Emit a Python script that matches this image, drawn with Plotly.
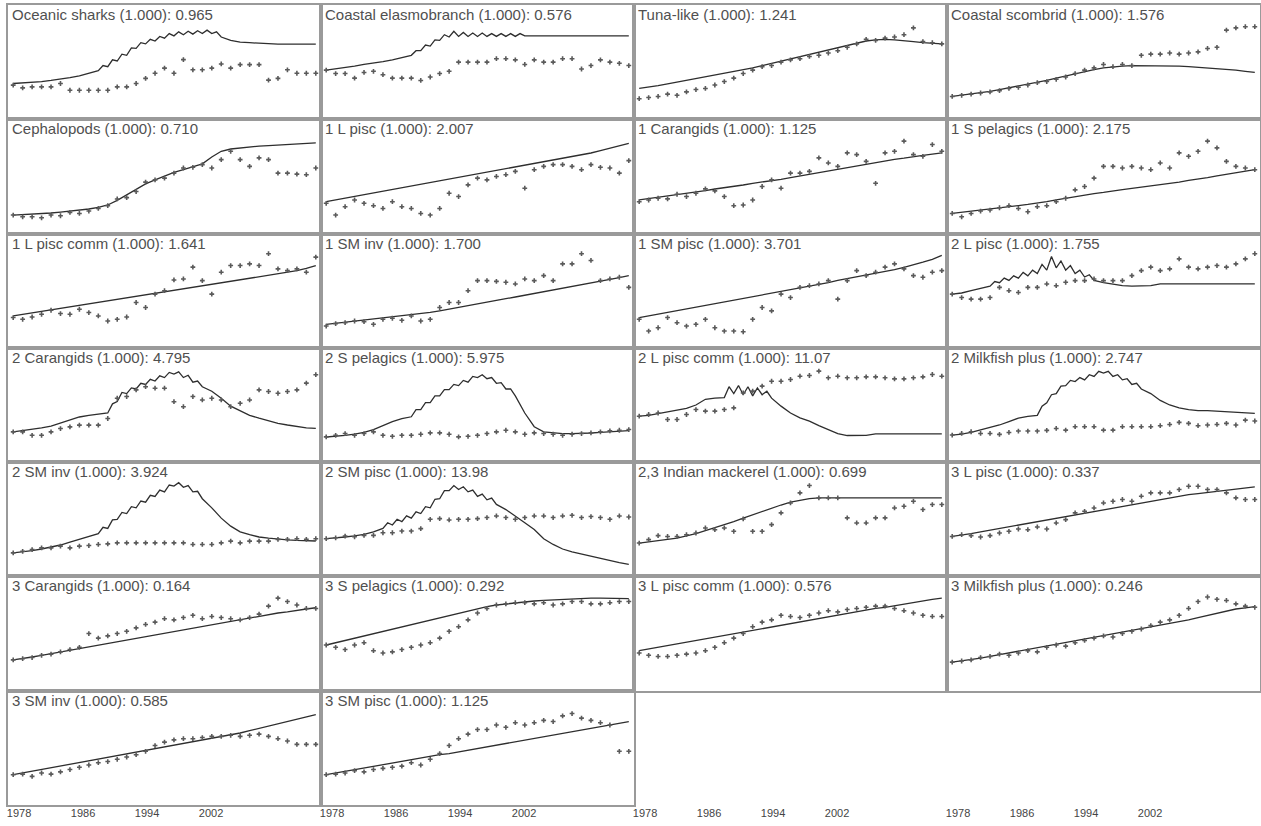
import plotly.graph_objects as go
from plotly.subplots import make_subplots

years = list(range(1978, 2011))
axis_tick_years = [1978, 1986, 1994, 2002]
axis_tick_text = ["1978", "1986", "1994", "2002"]

titles = [
    "Oceanic sharks (1.000): 0.965", "Coastal elasmobranch (1.000): 0.576",
    "Tuna-like (1.000): 1.241", "Coastal scombrid (1.000): 1.576",
    "Cephalopods (1.000): 0.710", "1 L pisc (1.000): 2.007",
    "1 Carangids (1.000): 1.125", "1 S pelagics (1.000): 2.175",
    "1 L pisc comm (1.000): 1.641", "1 SM inv (1.000): 1.700",
    "1 SM pisc (1.000): 3.701", "2 L pisc (1.000): 1.755",
    "2 Carangids (1.000): 4.795", "2 S pelagics (1.000): 5.975",
    "2 L pisc comm (1.000): 11.07", "2 Milkfish plus (1.000): 2.747",
    "2 SM inv (1.000): 3.924", "2 SM pisc (1.000): 13.98",
    "2,3 Indian mackerel (1.000): 0.699", "3 L pisc (1.000): 0.337",
    "3 Carangids (1.000): 0.164", "3 S pelagics (1.000): 0.292",
    "3 L pisc comm (1.000): 0.576", "3 Milkfish plus (1.000): 0.246",
    "3 SM inv (1.000): 0.585", "3 SM pisc (1.000): 1.125",
]

# ---- observed (relative) values and fitted lines, panel-relative scale 0-100 ----
obs_oceanic_sharks = [29.9, 27.5, 28.4, 28.4, 28.4, 31.3, 25.4, 25.4, 25.4, 25.4, 25.4, 28.4, 28.4, 31.3, 35.8, 40.3, 44.8, 40.3, 52.2, 43.3, 43.3, 44.8, 48.4, 44.8, 47.8, 47.8, 47.8, 34.3, 35.8, 43.3, 40.3, 40.3, 40.3]
fit_oceanic_sharks = [31.3, 31.8, 32.3, 33, 34, 35, 36.5, 38, 40, 42.5, 46, 51, 56, 62, 66, 68.5, 71, 73, 74, 74.5, 75, 75, 72, 69, 67.5, 67, 66.5, 66, 65.7, 65.7, 65.7, 65.7, 65.7]
mid_oceanic_sharks = [None] * 9 + [47, 52, 57, 62.5, 67, 70, 72.5, 75, 76.5, 77, 77.5, 78, 76.5] + [None] * 11

obs_coastal_elasmo = [43, 40, 40, 36, 41, 42, 39, 36, 36, 36, 34, 37, 40, 42, 50, 50, 50, 50, 53, 53, 52, 48, 52, 50, 50, 53, 53, 44, 47, 52, 50, 49, 47]
fit_coastal_elasmo = [43, 44, 45, 46.5, 48, 49, 50.5, 52, 54, 56, 60, 64, 69, 72, 72.5, 72.5, 72.5, 72.5, 72.5, 72.5, 72.5, 73, 73, 73, 73, 73, 73, 73, 73, 73, 73, 73, 73]
mid_coastal_elasmo = [None] * 9 + [60, 65, 69.5, 74, 77, 76, 75.5, 75.5, 75, 75, 75, 75] + [None] * 12

obs_tuna_like = [18, 19, 20, 22, 21, 24, 26, 27, 30, 33, 36, 40, 43, 46, 47, 50, 52, 53, 55, 56, 58, 60, 63, 66, 70, 69, 71, 72, 74, 80, 68, 67, 66]
fit_tuna_like = [27, 28, 29.5, 31, 32.5, 34, 35.5, 37, 38.5, 40, 41.5, 43, 45, 47, 49, 51, 53, 55, 57, 59, 61, 63, 65, 67, 68.5, 69.5, 70, 69.5, 69, 68, 67, 66.5, 66]

obs_coastal_scombrid = [20, 21, 22, 23, 24, 25, 27, 28, 30, 32, 33, 35, 37, 40, 43, 45, 48, 46, 48, 47, 56, 57, 57, 58, 57, 58, 59, 62, 63, 78, 80, 81, 81]
fit_coastal_scombrid = [20, 21, 22, 23, 24.5, 26, 27.5, 29, 30.5, 32, 34, 36, 38, 40, 42, 43.5, 45, 46, 46.5, 47, 47, 47, 47, 47, 46.5, 46, 45.5, 45, 44.5, 44, 43, 42, 41]

obs_cephalopods = [16.2, 14.7, 14.7, 13.8, 16.2, 15.6, 18.5, 17.6, 19.7, 22, 24.4, 30.3, 31.5, 36.8, 45, 47, 48.5, 52.9, 57.4, 58, 60.3, 57.4, 64.7, 72, 64.7, 58.8, 66.2, 64.7, 52.9, 52.9, 52, 51.5, 57.4]
fit_cephalopods = [16.2, 16.5, 17, 17.5, 18, 18.8, 19.7, 20.5, 21.5, 23, 25, 29, 34, 39, 43.5, 47, 50.5, 53.5, 56, 58.5, 61, 67, 72, 74, 75, 75.8, 76.5, 77, 77.5, 78, 78.5, 79, 79.4]

obs_1_l_pisc = [26.5, 16.2, 23.5, 29.4, 26.5, 24.4, 22, 27.9, 23.5, 22, 17.6, 16.2, 22, 35.3, 32.4, 42.6, 48.5, 47, 50, 51.5, 54.4, 39.7, 55.9, 58.8, 60.3, 60.3, 58.8, 55.9, 60.3, 58, 57.4, 52.9, 63.8]
fit_1_l_pisc = [28, 29.5, 31, 32.5, 34, 35.5, 37, 38.5, 40, 41.5, 43, 44.5, 46, 47.5, 49, 50.5, 52, 53.5, 55, 56.5, 58, 59.5, 61, 62.5, 64, 65.5, 67, 68.5, 70.5, 72.5, 74.5, 76.5, 79]

obs_1_carangids = [27.9, 29.4, 30.9, 30.4, 34.4, 32.4, 35.3, 39.1, 37.4, 32.4, 24.4, 25, 29.4, 41.2, 47, 39.7, 52.9, 52.9, 54.4, 66.2, 61.8, 58.8, 70.6, 69.1, 63.2, 44, 70.6, 72, 80.9, 69.1, 67.6, 77.9, 72]
fit_1_carangids = [29.4, 30.5, 31.5, 33, 34, 35, 36.5, 37.5, 39, 40, 41.5, 42.5, 44, 45, 46.5, 47.5, 49, 50.5, 52, 53.5, 55, 56.5, 58, 59.5, 61, 62.5, 63.5, 65, 66, 67.5, 68.5, 69.5, 70.6]

obs_1_s_pelagics = [17.6, 14.7, 17.6, 19.7, 20.6, 22.6, 24.4, 22, 19.1, 23.5, 24.4, 27.9, 30.9, 38.2, 41.2, 48.5, 58.8, 58.8, 57.4, 58.8, 57.4, 55.9, 61.8, 57.4, 70.6, 67.6, 72, 80.9, 75, 63.2, 58.8, 57.4, 55.9]
fit_1_s_pelagics = [17.6, 18.5, 19.5, 20.5, 21.5, 22.5, 23.5, 24.5, 25.5, 26.5, 28, 29.5, 31, 32.5, 34, 35, 36, 37.5, 38.5, 39.5, 40.5, 41.5, 42.5, 44, 45, 46.5, 47.5, 49, 50.5, 52, 53, 54.5, 55.9]

obs_1_l_pisc_comm = [26.5, 25, 27, 29.4, 32.9, 30, 29.4, 33.8, 30.9, 27.9, 23.5, 25, 27, 39.7, 35.3, 47, 50, 59.4, 60.3, 70.6, 58.8, 47, 66.2, 72, 72, 73.5, 72, 82.4, 69.1, 67.6, 69.1, 66.2, 79.4]
fit_1_l_pisc_comm = [27.9, 29.2, 30.5, 31.8, 33.1, 34.4, 35.7, 37, 38.3, 39.6, 41, 42.3, 43.6, 44.9, 46.2, 47.5, 48.8, 50.1, 51.4, 52.7, 54, 55.3, 56.6, 57.9, 59.2, 60.5, 61.8, 63.1, 64.4, 65.7, 67.5, 69.5, 72]

obs_1_sm_inv = [19.1, 21.2, 22, 23.5, 22.9, 20.6, 25, 25.9, 24.1, 27.9, 23.5, 25, 35.3, 39.7, 39.7, 50, 58.8, 58.8, 58.2, 57.4, 55.9, 60.3, 58.8, 63.2, 58.8, 73.5, 73.5, 82.4, 76.5, 58.8, 60.3, 61.8, 52.9]
fit_1_sm_inv = [20.6, 21.5, 22.4, 23.3, 24.2, 25.1, 26, 27, 28, 29, 30, 31, 32.4, 34, 35.5, 37, 38.5, 40, 41.5, 43, 44.5, 46, 47.5, 49, 50.5, 52, 53.5, 55, 56.5, 58, 59.5, 61.5, 63.2]

obs_1_sm_pisc = [25, 14.7, 17.6, 26.5, 22, 19.1, 20.6, 25, 17.6, 14.7, 14.7, 14.1, 25, 35.3, 32.4, 47, 44, 52.9, 54.4, 55.9, 58.8, 42.6, 58.8, 67.6, 63.2, 66.2, 70.6, 73.5, 69.1, 63.2, 61.8, 66.2, 67.6]
fit_1_sm_pisc = [26.5, 28, 29.5, 31, 32.5, 34, 35.5, 37, 38.5, 40, 41.5, 43, 44.5, 46, 47.5, 49.5, 51, 52.5, 54, 55.5, 57, 59, 60.5, 62, 63.5, 65.5, 67, 68.5, 70.5, 72.5, 75, 77.5, 80.9]

obs_2_l_pisc = [47, 44, 42.6, 42.6, 44, 52.9, 50, 48.5, 52.9, 52.9, 55.9, 54.4, 57.4, 58.8, 58.8, 60.3, 58.8, 58.8, 58.8, 63.2, 67.6, 70.6, 67.6, 69.1, 77.9, 70.6, 69.1, 70.6, 72, 70.6, 73.5, 77.9, 82.4]
fit_2_l_pisc = [47, 48, 50, 52, 54, 57, 59, 61, 63, 65, 68, 70, 68, 65, 62, 59, 57, 55.5, 54.5, 54, 54, 54.5, 55.9, 55.9, 55.9, 55.9, 55.9, 55.9, 55.9, 55.9, 55.9, 55.9, 55.9]
mid_2_l_pisc = [None] * 4 + [58, 61, 63, 66, 68, 73, 80, 76, 72, 68, 64] + [None] * 18

obs_2_carangids = [26.5, 26.5, 23.5, 23.5, 26.5, 29.4, 30.9, 32.4, 32.4, 32.4, 38.2, 55.9, 57.4, 63.2, 66, 64.7, 64.7, 52.9, 48.5, 57.4, 54.4, 55.9, 54.4, 48.5, 51.5, 54.4, 63.2, 61.8, 60.3, 61.8, 63.2, 69.1, 76.5]
fit_2_carangids = [26.5, 27.5, 28.5, 30, 31.5, 34, 37, 39.5, 41, 42, 43, 53, 60, 64, 68, 71, 74, 77, 74, 70, 66, 62, 56, 49, 45, 41, 38.5, 36, 34, 32.5, 31, 30, 29.5]
mid_2_carangids = [None] * 10 + [51, 61, 65, 69, 72.5, 75.5, 78.5, 79, 76, 71] + [None] * 13

obs_2_s_pelagics = [22.1, 23.5, 25, 23.5, 25, 26.5, 23.5, 22.6, 23.5, 23.5, 24.4, 25.6, 25.6, 24.4, 22.1, 22.6, 23.5, 25, 26.5, 27.9, 26.5, 24.4, 25.6, 25, 24.4, 23.5, 24.4, 25, 25.6, 26.5, 27.4, 27.9, 28.5]
fit_2_s_pelagics = [22, 22.5, 23.5, 24.5, 26, 28.5, 32, 35.5, 38, 39.7, 46, 52, 58, 63.5, 67, 70, 74, 73, 69, 64, 58, 43, 31, 26.5, 25.5, 25, 25, 25, 25.5, 26, 26.5, 27, 27.5]
mid_2_s_pelagics = [None] * 9 + [46, 52, 58, 63.5, 68, 71.5, 75, 76.5, 74, 69.5, 64] + [None] * 13

obs_2_l_pisc_comm = [40.2, 41.7, 43, 37.3, 37.3, 41.7, 46, 44.6, 44.6, 46, 47.5, 60.6, 62.1, 66.5, 70.8, 70.8, 72.3, 75.2, 75.8, 79.6, 73.8, 75.2, 73.8, 73.8, 74.6, 74.6, 73.8, 72.9, 72.9, 73.8, 74.6, 76.7, 75.2]
fit_2_l_pisc_comm = [40.2, 41, 42.5, 44, 45, 47, 50, 55, 56, 56.5, 60, 59, 58, 59, 56, 49, 43, 38.8, 35.9, 32, 28.6, 25, 23.3, 23.3, 23.5, 24.8, 24.8, 24.8, 24.8, 24.8, 24.8, 24.8, 24.8]
mid_2_l_pisc_comm = [None] * 9 + [66, 67, 66, 65, 62] + [None] * 19

obs_2_milkfish = [23.7, 25.1, 26.6, 25.1, 25.1, 24.3, 26, 27.2, 27.2, 27.2, 27.8, 29.5, 28, 31, 31, 31, 28, 28, 31, 31, 31, 31, 31.9, 33, 34.8, 33.9, 31.9, 32.5, 33, 33.9, 32.5, 36.8, 36]
fit_2_milkfish = [23.7, 24.5, 26, 28, 30, 32.5, 35.5, 38.5, 40, 41, 52, 60, 67, 70.5, 72, 75, 78, 75, 72, 68, 64, 60, 54, 50, 47.5, 46, 45, 45, 44.5, 44, 43.5, 42.7, 42.7]
mid_2_milkfish = [None] * 9 + [49, 59, 66.5, 71.5, 74, 76.5, 79.5, 79.5, 76.5, 73, 69] + [None] * 13

obs_2_sm_inv = [20.6, 22, 23.5, 25, 25, 26.5, 25, 26.5, 27, 28, 28.5, 29.4, 29.4, 29.4, 29.4, 29.4, 29.4, 29.4, 29.4, 28, 28, 28, 29.4, 30.9, 29.4, 30.9, 30.9, 30.9, 32.4, 32.4, 33, 32.4, 33]
fit_2_sm_inv = [20.6, 21.5, 22.5, 24, 25.5, 27.5, 30, 32.4, 35, 37.5, 42, 50, 55, 60, 65, 70, 74, 79, 78, 74, 68, 60, 51, 44, 39, 36.5, 34.5, 33.5, 32.5, 32, 31.5, 31, 31]
mid_2_sm_inv = [None] * 9 + [43, 49.5, 56, 61, 66, 71, 75.5, 80, 82, 79.5, 74.5] + [None] * 13

obs_2_sm_pisc = [33, 33.8, 35.3, 34.7, 35.9, 35.9, 38.2, 38.2, 39.7, 39.7, 41.8, 50, 50.6, 49.4, 50, 50, 50.6, 51.5, 52.9, 51.5, 50, 51.5, 52.9, 52.9, 51.5, 52.9, 53.5, 51.5, 52.4, 51.5, 50, 52.9, 52]
fit_2_sm_pisc = [33, 33.5, 34.5, 35.5, 36.8, 39, 42, 45, 48, 51, 55, 60, 68, 75, 76, 74, 70, 67, 63, 58.5, 53, 47, 41, 33, 28, 24, 21.5, 19.5, 17.5, 15.5, 13.5, 12, 10.5]
mid_2_sm_pisc = [None] * 6 + [47, 50, 53, 56.5, 61, 67.5, 75, 79.5, 78.5, 75.5, 72, 68.5] + [None] * 15

obs_indian_mackerel = [29.2, 32.2, 35.7, 35, 35, 36.5, 38, 42.4, 40.9, 42.4, 39.5, 50.3, 39.5, 39.5, 45.3, 55.6, 64.3, 73.1, 79.5, 68.7, 68.7, 68.7, 51.2, 46.8, 46.8, 51.2, 51.2, 59.9, 61.4, 65.8, 58.5, 62.9, 62.9]
fit_indian_mackerel = [29.2, 30.5, 31.5, 32.5, 33.6, 35.5, 37.5, 40, 42.5, 45, 48, 51, 54, 57, 60, 62.5, 65, 66.5, 68, 68.7, 69, 68.7, 68.7, 68.7, 68.7, 68.7, 68.7, 68.7, 68.7, 68.7, 68.7, 68.7, 68.7]

obs_3_l_pisc = [35, 36.5, 35.7, 34.5, 35.7, 38, 39.5, 41.5, 40.9, 43.3, 41.5, 46.8, 49.7, 55.6, 57, 59.9, 64.3, 65.8, 67.3, 65.8, 70.2, 73.1, 73.1, 73.1, 76, 78.9, 78.9, 76, 76, 73.1, 68.7, 67.3, 67.3]
fit_3_l_pisc = [35, 36, 37.5, 39, 40.5, 42, 43.5, 45, 46.5, 48, 49.5, 51, 52.5, 54, 55.5, 57, 58.5, 60, 61.5, 63, 64.5, 66, 67.5, 69, 70, 71.5, 72.5, 73.5, 74.5, 75.5, 76.5, 77.5, 78.4]

obs_3_carangids = [27, 28, 29, 31, 32, 34, 36, 38, 50, 46, 48, 50, 52, 55, 58, 60, 63, 62, 64, 66, 63, 65, 64, 63, 62, 64, 67, 74, 81, 78, 75, 72, 72]
fit_3_carangids = [27, 28, 29.5, 31, 32.5, 34, 35.5, 37, 38.5, 40, 41.5, 43, 44.5, 46, 47.5, 49, 50.5, 52, 53.5, 55, 56.5, 58, 59.5, 61, 62.5, 64, 65.5, 67, 68, 69, 70.5, 71.5, 72.6]

obs_3_s_pelagics = [40, 38, 36, 40, 42, 35, 33, 34, 36, 38, 40, 42, 46, 52, 56, 62, 68, 72, 75, 76, 77, 77, 76, 77, 75, 76, 78, 78, 76, 76, 77, 78, 78]
fit_3_s_pelagics = [40, 42, 44, 46, 48, 50, 52, 54, 56, 58, 60, 62, 64, 66, 68, 70, 72, 73.5, 75, 76, 77, 78, 78.5, 79, 79.5, 80, 80.5, 81, 81, 81, 81, 81, 80.5]

obs_3_l_pisc_comm = [33, 31, 30, 30, 31, 32, 33, 35, 38, 42, 46, 50, 56, 60, 62, 66, 65, 64, 66, 68, 70, 69, 71, 72, 73, 74, 74, 72, 70, 68, 66, 65, 65]
fit_3_l_pisc_comm = [35, 36.5, 38, 39.5, 41, 42.5, 44, 45.5, 47, 48.5, 50, 51.5, 53, 54.5, 56, 57.5, 59, 60.5, 62, 63.5, 65, 66.5, 68, 69, 70.5, 72, 73, 74.5, 76, 77.5, 78.5, 80, 81]

obs_3_milkfish = [25, 26, 27, 29, 30, 32, 31, 33, 35, 34, 38, 40, 39, 42, 44, 46, 48, 47, 50, 52, 54, 57, 60, 62, 66, 72, 78, 82, 80, 79, 76, 74, 73]
fit_3_milkfish = [25, 26, 27, 28.5, 30, 31.5, 33, 34.5, 36, 37.5, 39, 40.5, 42, 43.5, 45, 46.5, 48, 49.5, 51, 52.5, 54, 55.5, 57, 58.5, 60, 62, 64, 66, 68, 70, 71.5, 72.5, 73.5]

obs_3_sm_inv = [26.5, 27, 25, 28, 27, 29, 31, 33, 35, 37, 38, 40, 42, 44, 47, 52, 55, 57, 58, 58, 59, 60, 60, 61, 60, 61, 62, 60, 58, 56, 53, 53, 53]
fit_3_sm_inv = [26.5, 28, 29.5, 31, 32.5, 34, 35.5, 37, 38.5, 40, 41.5, 43, 44.5, 46, 47.5, 49, 50.5, 52, 53.5, 55, 56.5, 58, 60, 61.5, 63, 65, 67, 69, 71, 73, 75, 77, 79]

obs_3_sm_pisc = [26.5, 27, 28, 30, 29, 31, 32, 33, 34, 37, 35, 40, 45, 52, 58, 62, 66, 66, 70, 68, 72, 70, 72, 74, 73, 78, 80, 76, 74, 72, 70, 47, 47]
fit_3_sm_pisc = [26.5, 28, 29.5, 31, 32, 33.5, 35, 36.5, 38, 39.5, 41, 42.5, 44, 45, 46.5, 48, 49.5, 51, 52.5, 54, 55.5, 57, 58.5, 60, 61.5, 63, 64.5, 66, 67.5, 69, 70.5, 72, 73]

panels = [
    (obs_oceanic_sharks, fit_oceanic_sharks, mid_oceanic_sharks),
    (obs_coastal_elasmo, fit_coastal_elasmo, mid_coastal_elasmo),
    (obs_tuna_like, fit_tuna_like, None),
    (obs_coastal_scombrid, fit_coastal_scombrid, None),
    (obs_cephalopods, fit_cephalopods, None),
    (obs_1_l_pisc, fit_1_l_pisc, None),
    (obs_1_carangids, fit_1_carangids, None),
    (obs_1_s_pelagics, fit_1_s_pelagics, None),
    (obs_1_l_pisc_comm, fit_1_l_pisc_comm, None),
    (obs_1_sm_inv, fit_1_sm_inv, None),
    (obs_1_sm_pisc, fit_1_sm_pisc, None),
    (obs_2_l_pisc, fit_2_l_pisc, mid_2_l_pisc),
    (obs_2_carangids, fit_2_carangids, mid_2_carangids),
    (obs_2_s_pelagics, fit_2_s_pelagics, mid_2_s_pelagics),
    (obs_2_l_pisc_comm, fit_2_l_pisc_comm, mid_2_l_pisc_comm),
    (obs_2_milkfish, fit_2_milkfish, mid_2_milkfish),
    (obs_2_sm_inv, fit_2_sm_inv, mid_2_sm_inv),
    (obs_2_sm_pisc, fit_2_sm_pisc, mid_2_sm_pisc),
    (obs_indian_mackerel, fit_indian_mackerel, None),
    (obs_3_l_pisc, fit_3_l_pisc, None),
    (obs_3_carangids, fit_3_carangids, None),
    (obs_3_s_pelagics, fit_3_s_pelagics, None),
    (obs_3_l_pisc_comm, fit_3_l_pisc_comm, None),
    (obs_3_milkfish, fit_3_milkfish, None),
    (obs_3_sm_inv, fit_3_sm_inv, None),
    (obs_3_sm_pisc, fit_3_sm_pisc, None),
]

NROWS, NCOLS = 7, 4
W, H = 1261, 826
FONT = "Liberation Sans, Arial, sans-serif"
BORDER = "#9a9a9a"
TICKFONT = dict(family=FONT, size=11, color="#444444")
data_range = [years[0] - 0.55, years[-1] + 0.55]
label_range = [1976.62, 2015.75]

fig = make_subplots(rows=NROWS, cols=NCOLS, horizontal_spacing=0, vertical_spacing=0)

for k, (obs, fit, mid) in enumerate(panels):
    r, c = k // NCOLS + 1, k % NCOLS + 1
    lx, ly = [], []
    for i, yr in enumerate(years):
        lx.append(yr)
        ly.append(fit[i])
        if mid is not None and mid[i] is not None:
            lx.append(yr + 0.5)
            ly.append(mid[i])
    fig.add_trace(go.Scatter(x=lx, y=ly, mode="lines",
                             line=dict(color="#2e2e2e", width=1.3),
                             showlegend=False, hoverinfo="skip"), row=r, col=c)
    fig.add_trace(go.Scatter(x=years, y=obs, mode="markers",
                             marker=dict(symbol="cross", size=4, color="#5a5a5a",
                                         line=dict(width=0)),
                             showlegend=False, hoverinfo="skip"), row=r, col=c)
    n = k + 1
    sfx = "" if n == 1 else str(n)
    fig.add_annotation(text=titles[k], xref=f"x{sfx} domain", yref=f"y{sfx} domain",
                       x=0, y=1, xanchor="left", yanchor="top", showarrow=False,
                       xshift=2, yshift=1,
                       font=dict(family=FONT, size=15, color="#505050"))

# empty cells of the last row still carry the year labels
for k in range(len(panels), NROWS * NCOLS):
    r, c = k // NCOLS + 1, k % NCOLS + 1
    fig.add_trace(go.Scatter(x=[], y=[], showlegend=False, hoverinfo="skip"), row=r, col=c)

axis_common = dict(showgrid=False, zeroline=False, ticks="", automargin=False)
for k in range(NROWS * NCOLS):
    n = k + 1
    sfx = "" if n == 1 else str(n)
    if k < len(panels):
        fig.layout[f"xaxis{sfx}"].update(range=data_range, showline=True, mirror=True,
                                         linecolor=BORDER, linewidth=2,
                                         showticklabels=False, **axis_common)
        fig.layout[f"yaxis{sfx}"].update(range=[0, 100], showline=True, mirror=True,
                                         linecolor=BORDER, linewidth=2,
                                         showticklabels=False, **axis_common)
    else:
        fig.layout[f"xaxis{sfx}"].update(range=label_range, showline=False,
                                         tickmode="array", tickvals=axis_tick_years,
                                         ticktext=axis_tick_text, tickfont=TICKFONT,
                                         **axis_common)
        fig.layout[f"yaxis{sfx}"].update(range=[0, 100], visible=False, **axis_common)

# label axes for the first two bottom-row columns (overlaying their panels)
for base_n, new_n in [(25, 29), (26, 30)]:
    fig.add_trace(go.Scatter(x=[], y=[], xaxis=f"x{new_n}", yaxis=f"y{base_n}",
                             showlegend=False, hoverinfo="skip"))
    fig.layout[f"xaxis{new_n}"] = dict(overlaying=f"x{base_n}", anchor=f"y{base_n}",
                                      range=label_range, showline=False, side="bottom",
                                      tickmode="array", tickvals=axis_tick_years,
                                      ticktext=axis_tick_text, tickfont=TICKFONT,
                                      **axis_common)

fig.update_layout(width=W, height=H, template="none",
                  margin=dict(l=8, r=1, t=5, b=21, pad=0),
                  paper_bgcolor="white", plot_bgcolor="white",
                  font=dict(family=FONT), showlegend=False)

fig.write_html("out.html")
